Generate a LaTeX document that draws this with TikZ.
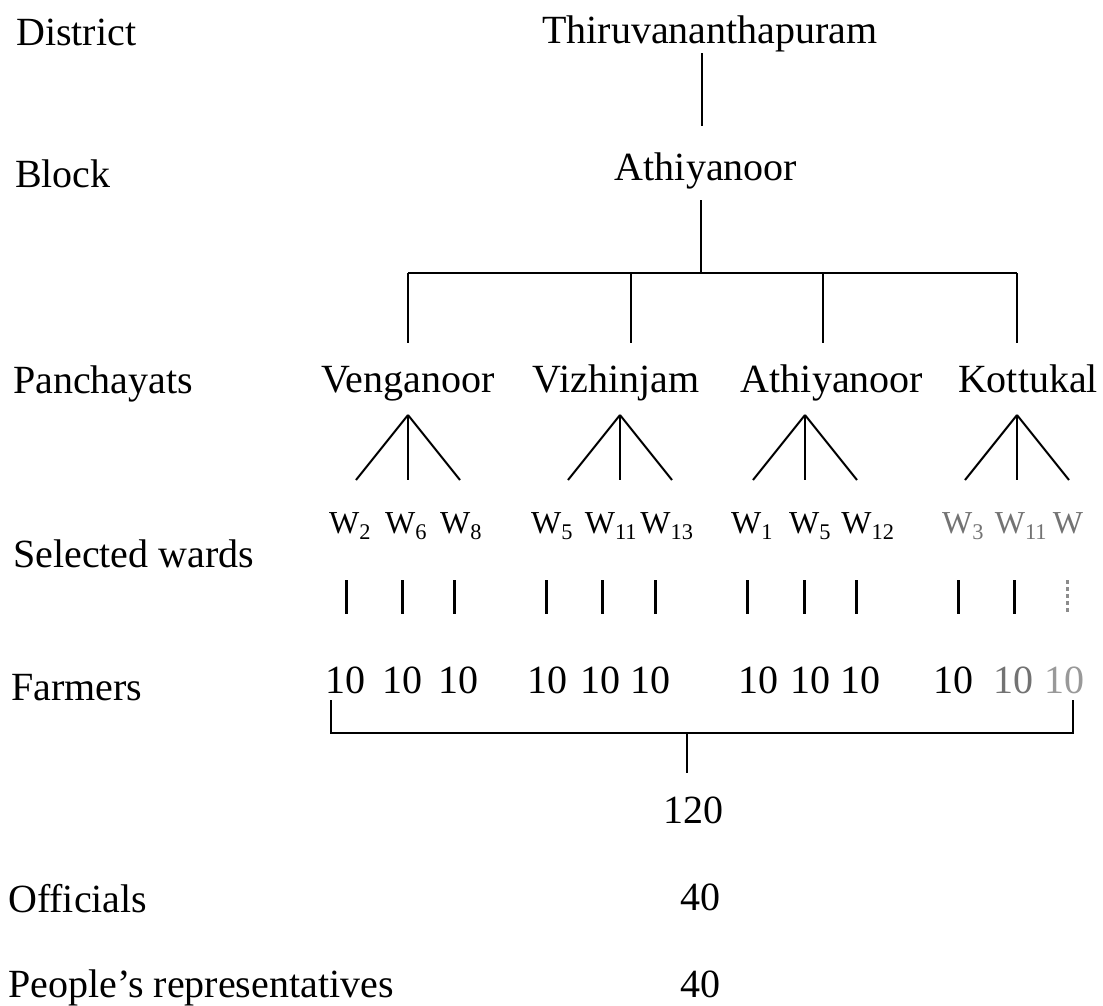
\documentclass[tikz,border=0pt]{standalone}
\usepackage{fontspec}
\setmainfont{Liberation Serif}
\begin{document}
\begin{tikzpicture}[x=1pt,y=-1pt,
  lbl/.style={font=\fontsize{40}{44}\selectfont, inner sep=0pt, anchor=base west},
  nm/.style={font=\fontsize{40}{44}\selectfont, inner sep=0pt, anchor=base},
  wd/.style={font=\fontsize{32}{36}\selectfont, inner sep=0pt, anchor=base},
  fw/.style={wd, text=black!55},
  ln/.style={line width=2.6pt},
  tri/.style={line width=2pt},
  bar/.style={line width=3pt}]
\useasboundingbox[fill=white] (0,0) rectangle (1103,1005);

% level labels
\node[lbl] (lDistrict) at (16,45) {District};
\node[lbl] (lBlock) at (15,187) {Block};
\node[lbl] (lPan) at (13,393) {Panchayats};
\node[lbl] (lSel) at (13,567) {Selected wards};
\node[lbl] (lFar) at (11,700) {Farmers};
\node[lbl] (lOff) at (8,912) {Officials};
\node[lbl] (lPeo) at (8,997) {People’s representatives};

% district and block
\node[nm] (thiru) at (710,43) {Thiruvananthapuram};
\node[nm] (athB) at (706,180) {Athiyanoor};
\coordinate (t1) at (702,53);
\coordinate (t2) at (702,126);
\draw[ln] (t1) -- (t2);
\coordinate (b1) at (701,200);
\coordinate (bus) at (701,273);
\draw[ln] (b1) -- (bus);

% panchayats
\node[nm] (pVen) at (408,392) {Venganoor};
\node[nm] (pViz) at (616,392) {Vizhinjam};
\node[nm] (pAth) at (832,392) {Athiyanoor};
\node[nm] (pKot) at (1028,392) {Kottukal};
\coordinate (dVen) at (408,273);
\coordinate (dViz) at (631,273);
\coordinate (dAth) at (823,273);
\coordinate (dKot) at (1017,273);
\draw[ln] (dVen) -- (dKot);
\foreach \d in {dVen,dViz,dAth,dKot}
  \draw[ln] (\d) -- ++(0,70);

% triangles to wards
\foreach \n/\x in {Ven/408,Viz/620,Ath/805,Kot/1017}{
  \coordinate (a\n) at (\x,415);
  \draw[tri] (a\n) -- ++(-52,65);
  \draw[tri] (a\n) -- ++(0,65);
  \draw[tri] (a\n) -- ++(52,65);
}

% ward labels
\node[wd] (w1) at (350,533) {W\textsubscript{2}};
\node[wd] (w2) at (406,533) {W\textsubscript{6}};
\node[wd] (w3) at (461,533) {W\textsubscript{8}};
\node[wd] (w4) at (552,533) {W\textsubscript{5}};
\node[wd] (w5) at (611,533) {W\textsubscript{11}};
\node[wd] (w6) at (667,533) {W\textsubscript{13}};
\node[wd] (w7) at (752,533) {W\textsubscript{1}};
\node[wd] (w8) at (810,533) {W\textsubscript{5}};
\node[wd] (w9) at (868,533) {W\textsubscript{12}};
\node[fw] (w10) at (963,533) {W\textsubscript{3}};
\node[fw] (w11) at (1021,533) {W\textsubscript{11}};
\node[fw] (w12) at (1068,533) {W};

% bars
\foreach \x in {346,402,454,546,602,655,747,804,856,958,1014}
  \draw[bar] (\x,580) -- (\x,614);
\draw[bar, black!45, dash pattern=on 4pt off 3pt] (1067,580) -- (1067,614);

% farmers
\foreach \i/\x in {1/345,2/402,3/458,4/547,5/600,6/650,7/758,8/810,9/860,10/953}
  \node[nm] (f\i) at (\x,693) {10};
\node[nm, text=black!55] (f11) at (1013,693) {10};
\node[nm, text=black!40] (f12) at (1064,693) {10};

% bracket
\coordinate (bl) at (331,700);
\coordinate (br) at (1073,700);
\coordinate (bm) at (687,733);
\coordinate (bs) at (687,773);
\draw[ln] (bl) |- (bm) -| (br);
\draw[ln] (bm) -- (bs);

% totals
\node[nm] (tot) at (693,823) {120};
\node[nm] (off) at (700,910) {40};
\node[nm] (peo) at (700,997) {40};
\end{tikzpicture}
\end{document}
